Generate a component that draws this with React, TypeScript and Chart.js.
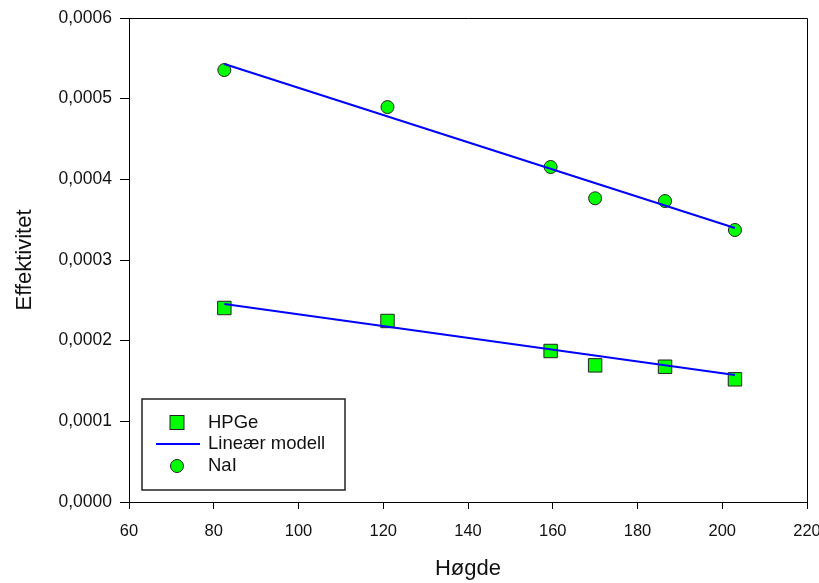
import React, { useEffect, useRef } from 'react';
import { Chart, registerables } from 'chart.js';
Chart.register(...registerables);

const hpgeX = [82.5, 121, 159.5, 170, 186.5, 203];
const hpgeY = [0.0002405, 0.0002244, 0.0001872, 0.0001694, 0.0001677, 0.0001521];
const naiX = [82.5, 121, 159.5, 170, 186.5, 203];
const naiY = [0.0005355, 0.0004896, 0.0004153, 0.0003765, 0.0003731, 0.0003372];
const fitX = [82.5, 203];
const fitHpgeY = [0.0002455, 0.0001574];
const fitNaiY = [0.000543, 0.0003397];
const xTicks = [60, 80, 100, 120, 140, 160, 180, 200, 220];
const yTicks = [0, 0.0001, 0.0002, 0.0003, 0.0004, 0.0005, 0.0006];
const legendLabels = ['HPGe', 'Lineær modell', 'NaI'];

const FONT = '"Liberation Sans", Arial, sans-serif';
const TEXT = '#111';
const GREEN = '#00ff00';
const BLUE = '#0000ff';

const framePlugin = {
  id: 'frameLegend',
  afterDraw(chart: any) {
    const { ctx, chartArea } = chart;
    ctx.save();
    ctx.strokeStyle = '#000';
    ctx.lineWidth = 1;
    ctx.beginPath();
    ctx.moveTo(chartArea.left, chartArea.top + 0.5);
    ctx.lineTo(chartArea.right + 0.5, chartArea.top + 0.5);
    ctx.lineTo(chartArea.right + 0.5, chartArea.bottom);
    ctx.stroke();

    // legend box
    const bx = 142, by = 399, bw = 203, bh = 91;
    ctx.lineWidth = 1.5;
    ctx.strokeStyle = '#222';
    ctx.strokeRect(bx, by, bw, bh);

    const symX = 177;
    const rows = [422.5, 444, 466];
    // square
    ctx.fillStyle = GREEN;
    ctx.strokeStyle = '#222';
    ctx.lineWidth = 1;
    ctx.fillRect(symX - 7, rows[0] - 7, 14, 14);
    ctx.strokeRect(symX - 7, rows[0] - 7, 14, 14);
    // line
    ctx.strokeStyle = BLUE;
    ctx.lineWidth = 2;
    ctx.beginPath();
    ctx.moveTo(156, rows[1]);
    ctx.lineTo(200, rows[1]);
    ctx.stroke();
    // circle
    ctx.fillStyle = GREEN;
    ctx.strokeStyle = '#222';
    ctx.lineWidth = 1;
    ctx.beginPath();
    ctx.arc(symX, rows[2], 6.5, 0, Math.PI * 2);
    ctx.fill();
    ctx.stroke();

    ctx.fillStyle = TEXT;
    ctx.font = '18.5px ' + FONT;
    ctx.textBaseline = 'middle';
    ctx.textAlign = 'left';
    legendLabels.forEach((t, i) => ctx.fillText(t, 208, rows[i]));
    ctx.restore();
  },
};

export default function App() {
  const ref = useRef<HTMLCanvasElement>(null);
  useEffect(() => {
    const pts = (xs: number[], ys: number[]) => xs.map((x, i) => ({ x, y: ys[i] }));
    const chart = new Chart(ref.current!, {
      type: 'scatter',
      data: {
        datasets: [
          {
            label: 'Lineær modell',
            data: pts(fitX, fitHpgeY),
            showLine: true,
            borderColor: BLUE,
            borderWidth: 2,
            pointRadius: 0,
            order: 0,
          },
          {
            label: 'Lineær modell NaI',
            data: pts(fitX, fitNaiY),
            showLine: true,
            borderColor: BLUE,
            borderWidth: 2,
            pointRadius: 0,
            order: 0,
          },
          {
            label: 'HPGe',
            data: pts(hpgeX, hpgeY),
            pointStyle: 'rect',
            pointRadius: 9.5,
            backgroundColor: GREEN,
            borderColor: '#222',
            borderWidth: 1,
            order: 1,
          },
          {
            label: 'NaI',
            data: pts(naiX, naiY),
            pointStyle: 'circle',
            pointRadius: 6.5,
            backgroundColor: GREEN,
            borderColor: '#222',
            borderWidth: 1,
            order: 1,
          },
        ],
      } as any,
      options: {
        animation: false,
        responsive: true,
        maintainAspectRatio: false,
        layout: { padding: { top: 18, right: 12, left: 0, bottom: 0 } },
        plugins: { legend: { display: false }, tooltip: { enabled: false } },
        scales: {
          x: {
            type: 'linear',
            min: 60,
            max: 220,
            afterBuildTicks: (s: any) => { s.ticks = xTicks.map((v) => ({ value: v })); },
            afterFit: (s: any) => { s.height = 81; s.paddingLeft = 0; s.paddingRight = 0; },
            ticks: {
              color: TEXT,
              font: { family: FONT, size: 16.5 },
              padding: 13,
              maxRotation: 0,
              callback: (v: any) => String(v),
            },
            grid: { drawOnChartArea: false, drawTicks: true, tickLength: 7, color: '#000', tickColor: '#000' },
            border: { display: true, color: '#000', width: 1 },
            title: { display: true, text: 'Høgde', color: TEXT, font: { family: FONT, size: 22 }, padding: { top: 0, bottom: 1.3 } },
          },
          y: {
            type: 'linear',
            min: 0,
            max: 0.0006,
            afterBuildTicks: (s: any) => { s.ticks = yTicks.map((v) => ({ value: v })); },
            afterFit: (s: any) => { s.width = 129; s.paddingTop = 0; s.paddingBottom = 0; },
            ticks: {
              color: TEXT,
              font: { family: FONT, size: 17.5 },
              padding: 8,
              callback: (v: any) => Number(v).toFixed(4).replace('.', ','),
            },
            grid: { drawOnChartArea: false, drawTicks: true, tickLength: 9, color: '#000', tickColor: '#000' },
            border: { display: true, color: '#000', width: 1 },
            title: { display: true, text: 'Effektivitet', color: TEXT, font: { family: FONT, size: 22 }, padding: { top: 12, bottom: 0 } },
          },
        },
      } as any,
      plugins: [framePlugin],
    });
    return () => chart.destroy();
  }, []);
  return (
    <div style={{ position: 'absolute', left: 0, top: 0, width: 819, height: 583, background: '#fff' }}>
      <canvas ref={ref} />
    </div>
  );
}
